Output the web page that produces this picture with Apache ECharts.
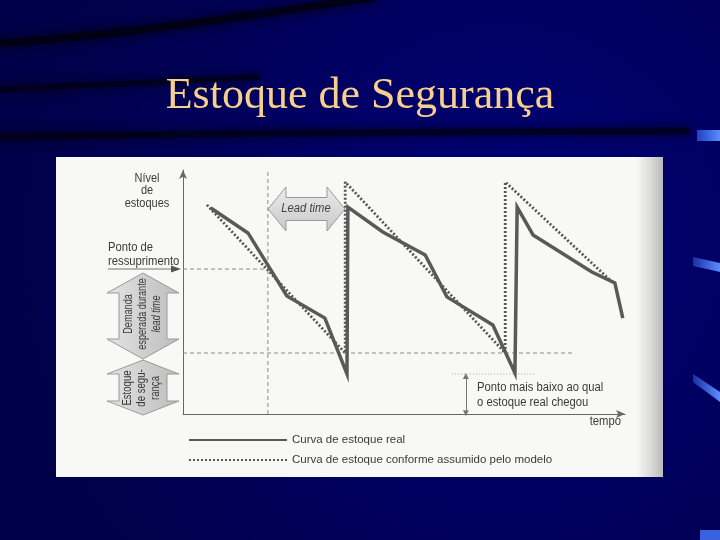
<!DOCTYPE html>
<html><head><meta charset="utf-8">
<script src="https://cdn.jsdelivr.net/npm/echarts@6/dist/echarts.min.js"></script>
<style>html,body{margin:0;padding:0;background:#000060;}#c{width:720px;height:540px;}</style>
</head><body><div id="c"></div>
<script>
// ---- data (time units 0..100, stock level units 0..100) ----
const realName = 'Curva de estoque real';
const modelName = 'Curva de estoque conforme assumido pelo modelo';
const realTime  = [6.3, 14.7, 23.5, 32.1, 37.1, 37.3, 45.2, 54.8, 59.7, 70.1, 75.1, 75.6, 79.2, 92.5, 97.7, 99.5];
const realLevel = [84.4, 74.2, 48.4, 39.3, 16.4, 84.8, 74.6, 65.2, 48.0, 36.5, 16.8, 84.8, 73.4, 58.2, 53.7, 39.3];
const modelTime  = [5.4, 36.7, 36.7, 72.9, 72.9, 96.6];
const modelLevel = [85.7, 25.0, 95.1, 25.0, 95.1, 54.9];
const reorderPoint = 59.4;
const safetyStock = 25.0;
const leadTimeStart = 19.2;
const safetyLineEnd = 88.2;
const lowestPoint = 16.4;
const lowestLineRange = [60.9, 79.6];
const lowestArrowTime = 64.0;

const zip = (a, b) => a.map((v, i) => [v, b[i]]);
const F = "'Liberation Sans','Arial',sans-serif";
const TXT = '#3a3a3a';

function T(text, x, y, o) {
  o = o || {};
  return {type: 'text', z: 10, x: x, y: y, rotation: o.rot || 0, scaleX: o.sx || 0.9, silent: true,
    style: {text: text, font: (o.italic ? 'italic ' : '') + (o.size || 12.5) + 'px ' + F, fill: o.color || TXT,
      align: o.align || 'center', verticalAlign: 'middle', lineHeight: o.lh || 14}};
}
function vArrow(cx, yTop, yBot, hw, bw, hl) {
  return [[cx, yTop], [cx + hw, yTop + hl], [cx + bw, yTop + hl], [cx + bw, yBot - hl], [cx + hw, yBot - hl],
          [cx, yBot], [cx - hw, yBot - hl], [cx - bw, yBot - hl], [cx - bw, yTop + hl], [cx - hw, yTop + hl]];
}
function hArrow(x1, x2, cy, hh, bh, hl) {
  return [[x1, cy], [x1 + hl, cy - hh], [x1 + hl, cy - bh], [x2 - hl, cy - bh], [x2 - hl, cy - hh],
          [x2, cy], [x2 - hl, cy + hh], [x2 - hl, cy + bh], [x1 + hl, cy + bh], [x1 + hl, cy + hh]];
}
const arrowFill = {type: 'linear', x: 0, y: 0, x2: 1, y2: 0, colorStops: [{offset: 0, color: '#e4e4e4'}, {offset: 1, color: '#bcbcbc'}]};
const arrowFillH = {type: 'linear', x: 0, y: 0, x2: 0, y2: 1, colorStops: [{offset: 0, color: '#ececec'}, {offset: 1, color: '#c8c8c8'}]};

const graphics = [
  // slide background
  {type: 'rect', z: -30, silent: true, shape: {x: 0, y: 0, width: 720, height: 540},
   style: {fill: {type: 'radial', x: 0.7, y: 0.45, r: 0.9, colorStops: [{offset: 0, color: '#00007a'}, {offset: 1, color: '#00004a'}]}}},
  {type: 'bezierCurve', z: -29, silent: true, shape: {x1: -10, y1: 44, cpx1: 140, cpy1: 34, x2: 380, y2: -4},
   style: {stroke: 'rgba(0,0,10,0.7)', lineWidth: 8, shadowBlur: 12, shadowColor: '#000'}},
  {type: 'bezierCurve', z: -29, silent: true, shape: {x1: -10, y1: 90, cpx1: 120, cpy1: 84, x2: 260, y2: 77},
   style: {stroke: 'rgba(0,0,10,0.6)', lineWidth: 6, shadowBlur: 12, shadowColor: '#000'}},
  {type: 'bezierCurve', z: -29, silent: true, shape: {x1: -10, y1: 137, cpx1: 300, cpy1: 132, x2: 690, y2: 131},
   style: {stroke: 'rgba(0,0,10,0.6)', lineWidth: 7, shadowBlur: 12, shadowColor: '#000'}},
  {type: 'rect', z: -28, silent: true, shape: {x: 697, y: 130, width: 23, height: 11},
   style: {fill: {type: 'linear', x: 0, y: 0, x2: 1, y2: 0, colorStops: [{offset: 0, color: '#2040c0'}, {offset: 1, color: '#5b8cff'}]}}},
  {type: 'polygon', z: -28, silent: true, shape: {points: [[693, 257], [720, 263], [720, 272], [693, 266]]},
   style: {fill: {type: 'linear', x: 0, y: 0, x2: 1, y2: 0, colorStops: [{offset: 0, color: '#1a30a0'}, {offset: 1, color: '#5b8cff'}]}}},
  {type: 'polygon', z: -28, silent: true, shape: {points: [[693, 374], [720, 392], [720, 402], [693, 382]]},
   style: {fill: {type: 'linear', x: 0, y: 0, x2: 1, y2: 0, colorStops: [{offset: 0, color: '#1a30a0'}, {offset: 1, color: '#5b8cff'}]}}},
  {type: 'rect', z: -28, silent: true, shape: {x: 700, y: 530, width: 20, height: 10}, style: {fill: '#3a62e0'}},
  // title
  {type: 'text', z: 10, x: 360, y: 96, silent: true, style: {text: 'Estoque de Segurança', font: "44px 'Liberation Serif','Times New Roman',serif",
   fill: '#f6d08c', align: 'center', verticalAlign: 'middle'}},
  // white figure panel
  {type: 'rect', z: -20, silent: true, shape: {x: 56, y: 157, width: 607, height: 320}, style: {fill: '#f8f8f6'}},
  {type: 'rect', z: -19, silent: true, shape: {x: 636, y: 157, width: 27, height: 320},
   style: {fill: {type: 'linear', x: 0, y: 0, x2: 1, y2: 0, colorStops: [{offset: 0, color: 'rgba(200,200,200,0)'}, {offset: 1, color: 'rgba(185,185,185,1)'}]}}},
  // left labels
  T('Nível\nde\nestoques', 147, 191, {lh: 12.5, sx: 0.88}),
  T('Ponto de\nressuprimento', 108, 255, {align: 'left', sx: 0.9}),
  {type: 'line', z: 10, silent: true, shape: {x1: 108, y1: 269, x2: 172, y2: 269}, style: {stroke: '#777', lineWidth: 1}},
  {type: 'polygon', z: 10, silent: true, shape: {points: [[181, 269], [171, 265.5], [171, 272.5]]}, style: {fill: '#555'}},
  // big vertical arrows
  {type: 'polygon', z: 5, silent: true, shape: {points: vArrow(143, 273, 359, 36, 24, 20)}, style: {fill: arrowFill, stroke: '#9a9a9a', lineWidth: 1}},
  {type: 'polygon', z: 5, silent: true, shape: {points: vArrow(143, 360, 415, 36, 24, 14)}, style: {fill: arrowFill, stroke: '#9a9a9a', lineWidth: 1}},
  T('Demanda', 129, 314, {rot: Math.PI / 2, size: 12, sx: 0.76}),
  T('esperada durante', 143, 314, {rot: Math.PI / 2, size: 12, sx: 0.76}),
  T('lead time', 157, 314, {rot: Math.PI / 2, size: 12, sx: 0.76, italic: true}),
  T('Estoque', 128, 388, {rot: Math.PI / 2, size: 12, sx: 0.8}),
  T('de segu-', 142, 388, {rot: Math.PI / 2, size: 12, sx: 0.8}),
  T('rança', 156, 388, {rot: Math.PI / 2, size: 12, sx: 0.8}),
  // lead time arrow
  {type: 'polygon', z: 5, silent: true, shape: {points: hArrow(268, 345, 209, 22, 11.5, 18)}, style: {fill: arrowFillH, stroke: '#9a9a9a', lineWidth: 1}},
  T('Lead time', 306, 209, {italic: true, color: '#444', sx: 0.9}),
  // lowest point note & axis name
  T('Ponto mais baixo ao qual\no estoque real chegou', 477, 395, {align: 'left', lh: 15, sx: 0.9}),
  T('tempo', 621, 422, {align: 'right', sx: 0.9})
];

const refLine = (data, type, color) => ({
  type: 'line', data: data, symbol: 'none', silent: true, z: 1,
  lineStyle: {color: color || '#8a8a8a', width: 1, type: type || [4, 3]}
});

const option = {
  animation: false,
  backgroundColor: 'transparent',
  grid: {left: 183, right: 95, top: 170, bottom: 126},
  xAxis: {type: 'value', min: 0, max: 100, axisTick: {show: false}, axisLabel: {show: false}, splitLine: {show: false},
    axisLine: {show: true, symbol: ['none', 'arrow'], symbolSize: [6, 9], lineStyle: {color: '#666', width: 1}}},
  yAxis: {type: 'value', min: 0, max: 100, axisTick: {show: false}, axisLabel: {show: false}, splitLine: {show: false},
    axisLine: {show: true, symbol: ['none', 'arrow'], symbolSize: [6, 9], lineStyle: {color: '#666', width: 1}}},
  legend: {data: [realName, modelName], orient: 'vertical', left: 183, top: 429, itemWidth: 98, itemHeight: 10, itemGap: 8,
    selectedMode: false, textStyle: {fontSize: 11.5, color: TXT, fontFamily: F}},
  graphic: graphics,
  series: [
    refLine([[0, reorderPoint], [leadTimeStart, reorderPoint]]),
    refLine([[leadTimeStart, 0], [leadTimeStart, 100]]),
    refLine([[0, safetyStock], [safetyLineEnd, safetyStock]]),
    refLine([[lowestLineRange[0], lowestPoint], [lowestLineRange[1], lowestPoint]], [1, 2], '#aaa'),
    {type: 'line', data: [], symbol: 'none', silent: true,
      markLine: {silent: true, symbol: ['triangle', 'triangle'], symbolSize: [6, 6], label: {show: false},
        lineStyle: {color: '#777', width: 1, type: 'solid'},
        data: [[{coord: [lowestArrowTime, lowestPoint - 0.8]}, {coord: [lowestArrowTime, 0.3]}]]}},
    {name: modelName, type: 'line', data: zip(modelTime, modelLevel), symbol: 'none', z: 3,
      itemStyle: {color: 'rgba(0,0,0,0)'},
      lineStyle: {color: '#555', width: 2.8, type: [2, 2]}},
    {name: realName, type: 'line', data: zip(realTime, realLevel), symbol: 'none', z: 4,
      itemStyle: {color: 'rgba(0,0,0,0)'},
      lineStyle: {color: '#595959', width: 3.5, type: 'solid', join: 'miter'}}
  ]
};
const chart = echarts.init(document.getElementById('c'), null, {renderer: 'canvas'});
chart.setOption(option);
</script></body></html>
